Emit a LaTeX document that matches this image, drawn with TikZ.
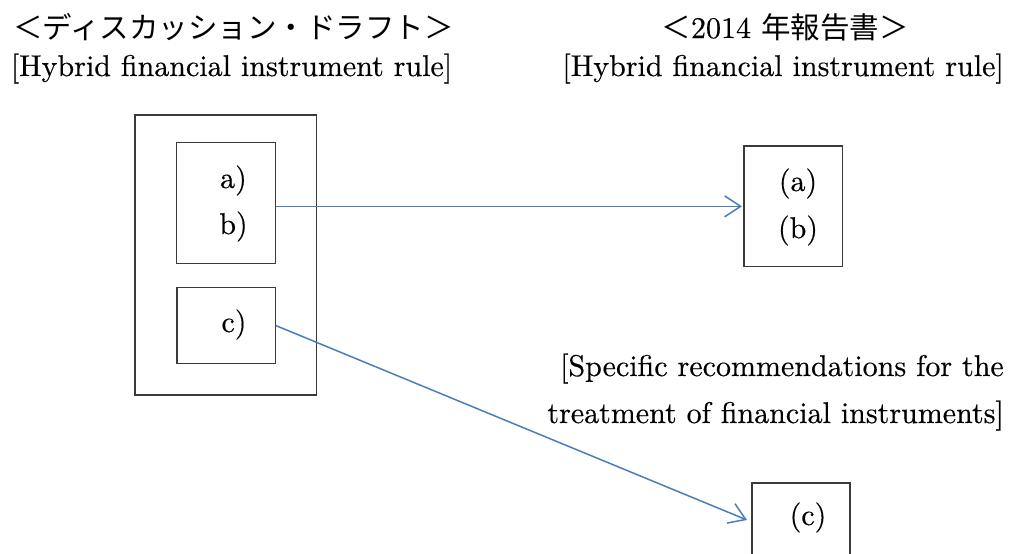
\documentclass[tikz,border=0pt]{standalone}
\usepackage{fontspec}
\setmainfont{lmroman10-regular.otf}[FakeBold=0.4]
\newfontfamily\jp{Noto Sans CJK JP}
\usetikzlibrary{arrows.meta,calc}
\definecolor{linkblue}{HTML}{4A7EBB}
\definecolor{boxline}{HTML}{3A3A3A}
\newcommand\jptext{\jp\fontsize{29.5}{32}\selectfont}
\begin{document}
\begin{tikzpicture}[x=1pt,y=-1pt,
  frame/.style={draw=boxline,line width=1.2pt,inner sep=0pt,outer sep=0pt},
  txt/.style={font=\fontsize{30}{34}\selectfont,inner sep=0pt,anchor=base},
  link/.style={draw=linkblue,line width=1.5pt,-{Straight Barb[length=16pt,width=21pt]}}]
\clip (0,0) rectangle (1010,554);

% headings
\node[txt,font=\jptext] (jpL) at (233.5,38) {＜ディスカッション・ドラフト＞};
\node[txt] (jpR) at (785,38) {{\jptext ＜}2014 {\jptext 年報告書＞}};
\node[txt] (hybL) at (231.5,76) {[Hybrid financial instrument rule]};
\node[txt,anchor=base east] (hybR) at (1004,76) {[Hybrid financial instrument rule]};
\node[txt,anchor=base east] (spec1) at (1004,376) {[Specific recommendations for the};
\node[txt,anchor=base east] (spec2) at (1004,423) {treatment of financial instruments]};

% discussion draft boxes
\node[frame,minimum width=181.7pt,minimum height=280pt] (outer) at (225.9,255) {};
\node[frame,minimum width=99pt,minimum height=120.6pt] (ab) at (226.2,203) {};
\node[frame,minimum width=98.7pt,minimum height=75.6pt] (c) at (226.35,325.5) {};
\node[txt] (la) at (233.5,188) {a)};
\node[txt] (lb) at (233.5,234) {b)};
\node[txt] (lc) at (234,332) {c)};

% 2014 report boxes
\node[frame,minimum width=98.7pt,minimum height=120.7pt] (rab) at (793.35,206.35) {};
\node[frame,minimum width=98pt,minimum height=74pt] (rc) at (801,520) {};
\node[txt] (ra) at (798,191) {(a)};
\node[txt] (rb) at (798,238) {(b)};
\node[txt] (rcl) at (808,525) {(c)};

% connectors
\draw[link] (ab.east |- rab.west) -- ([xshift=-2pt]rab.west);
\draw[link] (c.east) -- ([xshift=-5pt]rc.west);
\end{tikzpicture}
\end{document}
